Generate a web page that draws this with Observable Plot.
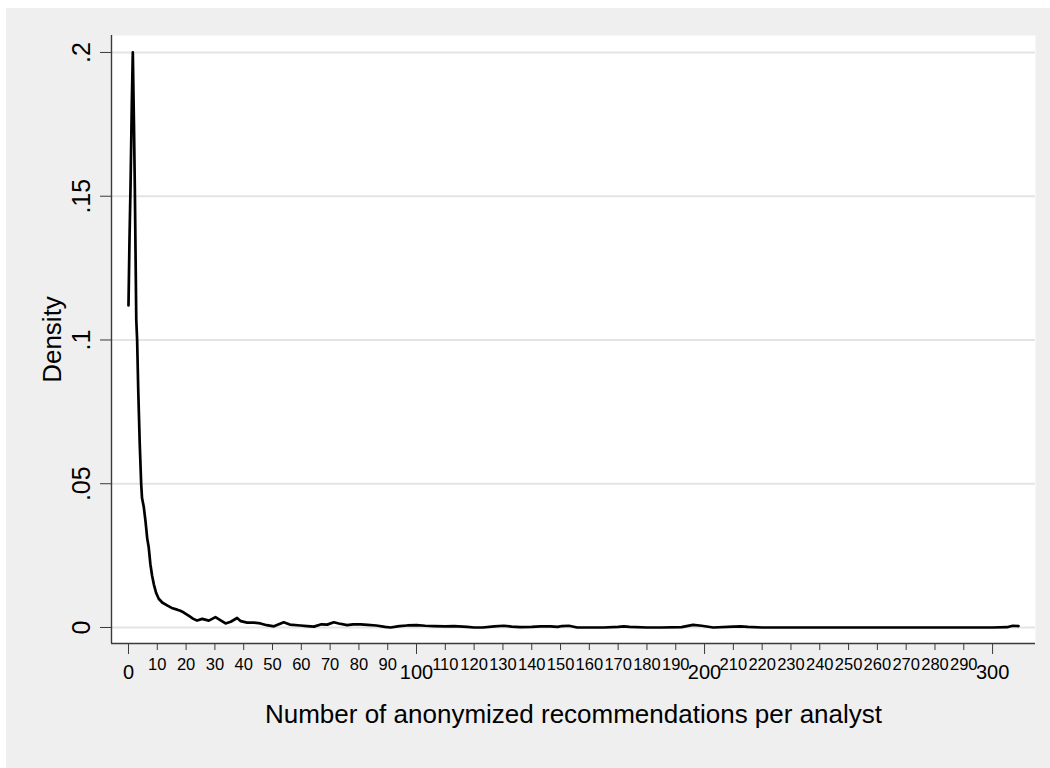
<!DOCTYPE html>
<html>
<head>
<meta charset="utf-8">
<script src="https://cdn.jsdelivr.net/npm/d3@7"></script>
<script src="https://cdn.jsdelivr.net/npm/@observablehq/plot@0.6"></script>
<style>
  html, body { margin: 0; padding: 0; background: #ffffff; }
  #chart { position: absolute; left: 6px; top: 8px; }
  #chart svg { display: block; background: #efefef; }
</style>
</head>
<body>
<div id="chart"></div>
<script>
// Kernel density estimate
const recs = [0, 0.35, 0.7, 1.15, 1.5, 1.9, 2.2, 2.45, 2.7, 3.0, 3.4, 3.9, 4.4, 4.7, 5.3, 5.9, 6.5, 7.0, 7.6, 8.2, 8.8, 9.6, 10.5,
  11.7, 13.4, 15, 16.9, 18, 19.2, 21, 22.5, 23.8, 25.6, 27.9, 30.2, 32, 33.7, 35.5, 37.7, 39, 41.2, 43.5, 45.8, 48, 50.5,
  52, 53.9, 56, 59.7, 62, 64.4, 67, 69, 71.3, 73, 75.9, 78, 80.6, 83, 86, 89, 91, 94, 96.8, 100, 103, 106, 110, 113,
  117.6, 120, 123, 127, 130.3, 133, 136, 140, 143, 146.5, 149, 150.5, 152.9, 155.8, 160, 165, 170, 172, 174, 180, 185,
  192, 196, 199, 203, 210, 212.5, 215, 220, 240, 260, 280, 300, 305, 307, 309];
const density = [0.112, 0.135, 0.153, 0.182, 0.200, 0.175, 0.153, 0.130, 0.107, 0.100, 0.082, 0.064, 0.050, 0.045, 0.042, 0.037, 0.031, 0.028, 0.022, 0.018, 0.015, 0.012, 0.010,
  0.0087, 0.0077, 0.0068, 0.0062, 0.0058, 0.0052, 0.0040, 0.0030, 0.0024, 0.0030, 0.0024, 0.0036, 0.0025, 0.0014, 0.0020, 0.0033, 0.0022, 0.0017, 0.0017, 0.0014, 0.0008, 0.0004,
  0.0010, 0.0018, 0.0010, 0.0007, 0.0005, 0.0003, 0.0011, 0.0010, 0.0018, 0.0014, 0.0008, 0.0011, 0.0011, 0.0009, 0.0007, 0.0002, 0.0, 0.0005, 0.0007, 0.0008, 0.0006, 0.0005, 0.0004, 0.0005,
  0.0002, 0.0, 0.0, 0.0004, 0.0006, 0.0003, 0.0001, 0.0002, 0.0004, 0.0004, 0.0002, 0.0005, 0.0006, 0.0, 0.0, 0.0, 0.0002, 0.0004, 0.0002, 0.0, 0.0,
  0.0001, 0.0009, 0.0006, 0.0, 0.0003, 0.0004, 0.0002, 0.0, 0.0, 0.0, 0.0, 0.0, 0.0001, 0.0006, 0.0005];

const xMinorTicks = [10, 20, 30, 40, 50, 60, 70, 80, 90, 110, 120, 130, 140, 150, 160, 170, 180, 190,
  210, 220, 230, 240, 250, 260, 270, 280, 290];
const xMajorTicks = [0, 100, 200, 300];
const yTicks = [0, 0.05, 0.1, 0.15, 0.2];
const yTickLabels = ["0", ".05", ".1", ".15", ".2"];
const xDomain = [-5.9, 314.9];
const yDomain = [-0.00557, 0.2059];
const xTitle = "Number of anonymized recommendations per analyst";
const yTitle = "Density";

const data = recs.map((x, i) => ({x, y: density[i]}));
const font = "'Liberation Sans', Arial, Helvetica, sans-serif";

const chart = Plot.plot({
  width: 1044,
  height: 760,
  marginLeft: 105,
  marginRight: 15,
  marginTop: 27,
  marginBottom: 125,
  style: {fontFamily: font, color: "#000", background: "#efefef"},
  x: {domain: xDomain, label: null},
  y: {domain: yDomain, label: null},
  marks: [
    Plot.frame({fill: "white", stroke: null}),
    Plot.ruleY(yTicks, {stroke: "#e4e4e4", strokeWidth: 2}),
    Plot.line(data, {x: "x", y: "y", stroke: "black", strokeWidth: 2.7, strokeLinejoin: "round"}),
    Plot.ruleX([xDomain[0]], {stroke: "#3a3a3a", strokeWidth: 1.4}),
    Plot.ruleY([yDomain[0]], {stroke: "#3a3a3a", strokeWidth: 1.4}),
    Plot.axisX(xMinorTicks, {tickSize: 7, tickPadding: 7.3, fontSize: 16.5, stroke: "#3a3a3a", label: null, tickFormat: d => String(d)}),
    Plot.axisX(xMajorTicks, {tickSize: 11, tickPadding: 9.8, fontSize: 20, stroke: "#3a3a3a", label: null, tickFormat: d => String(d)}),
    Plot.axisY(yTicks, {tickSize: 11, fill: "none", stroke: "#3a3a3a", label: null}),
    Plot.text(yTicks, {y: d => d, text: (d, i) => yTickLabels[i], frameAnchor: "left", dx: -22, rotate: -90,
      textAnchor: "middle", lineAnchor: "bottom", fontSize: 25, fill: "black"}),
    Plot.text([yTitle], {text: d => d, frameAnchor: "left", dx: -51, rotate: -90,
      textAnchor: "middle", lineAnchor: "bottom", fontSize: 26, fill: "black"}),
    Plot.text([xTitle], {text: d => d, frameAnchor: "bottom", dy: 79,
      textAnchor: "middle", lineAnchor: "bottom", fontSize: 26, fill: "black"})
  ]
});
document.getElementById("chart").appendChild(chart);
</script>
</body>
</html>
